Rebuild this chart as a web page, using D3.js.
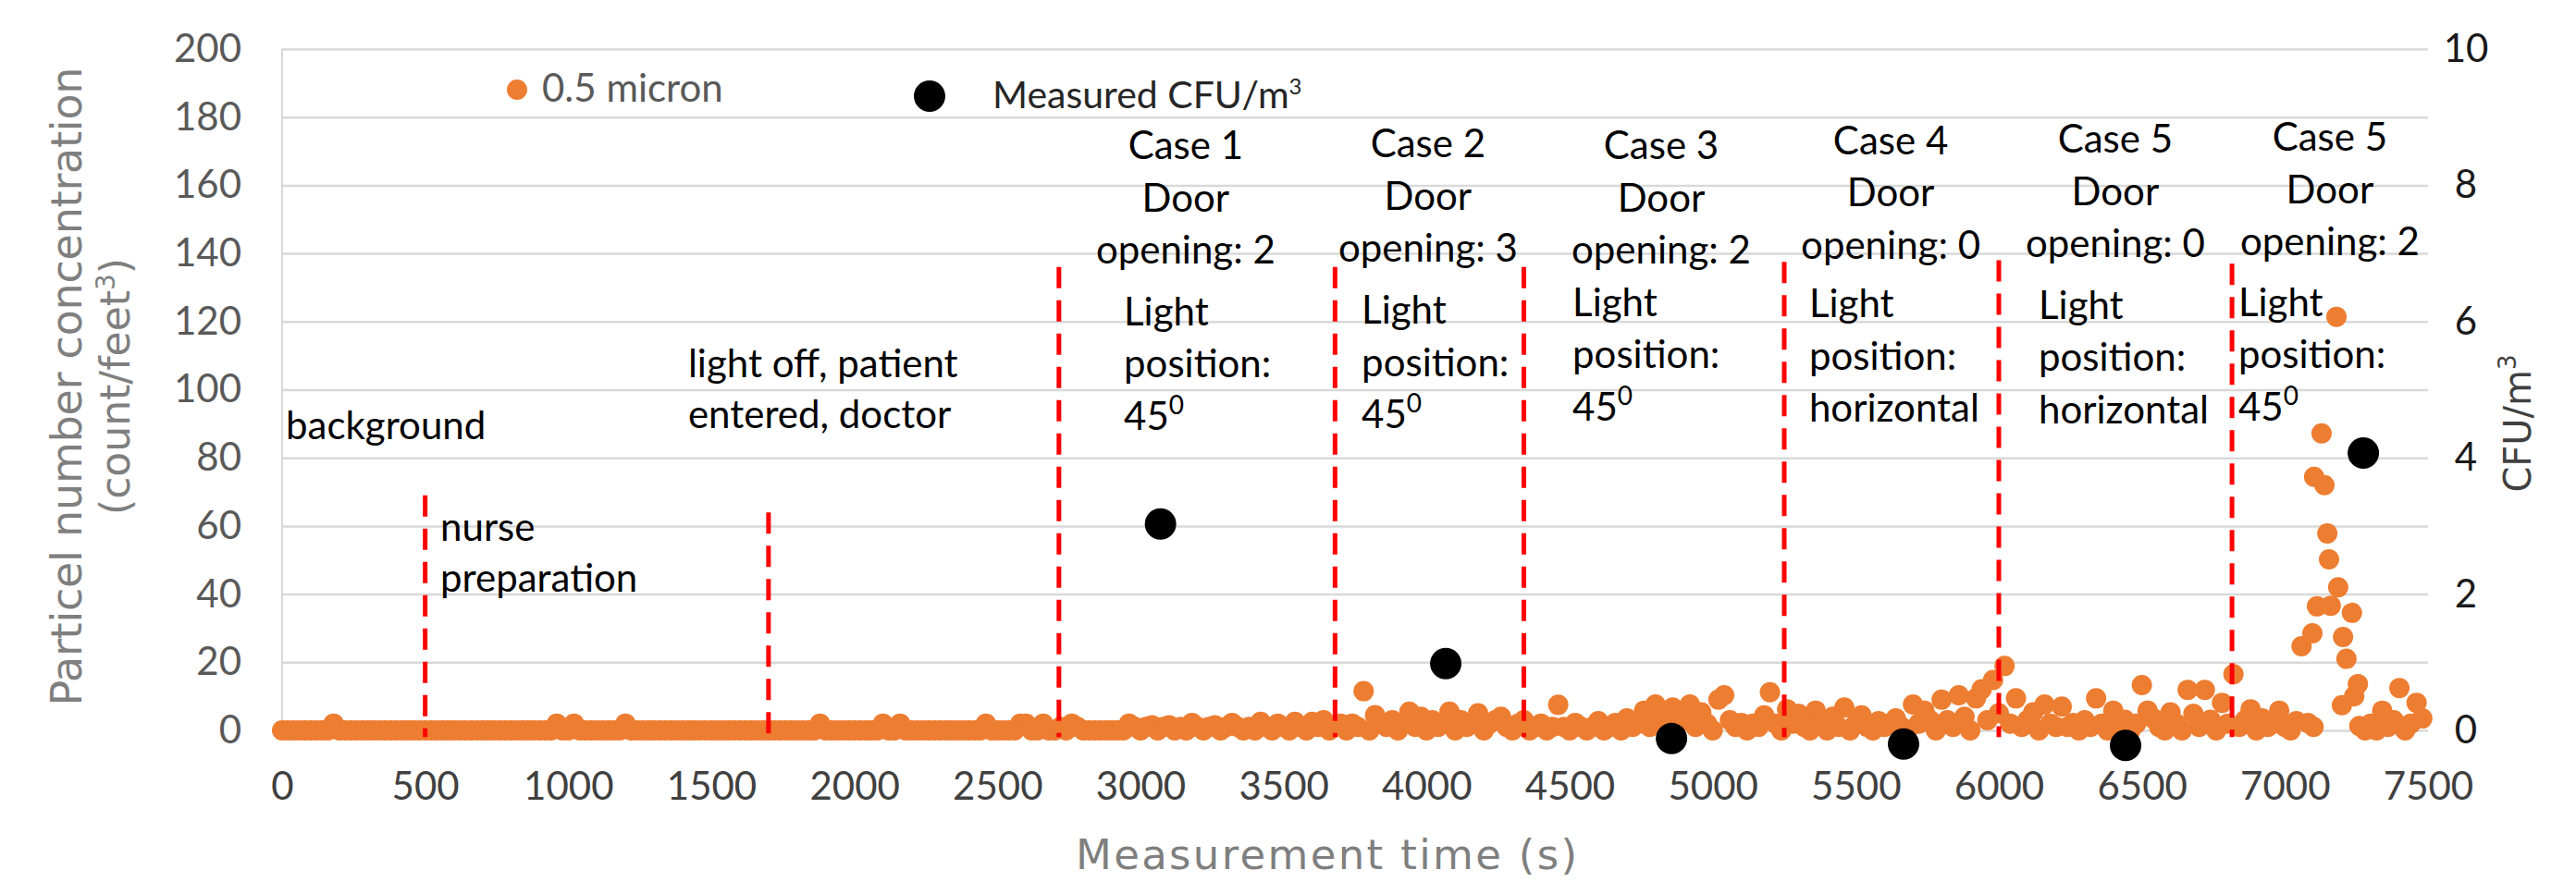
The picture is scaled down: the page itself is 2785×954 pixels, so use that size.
<!DOCTYPE html>
<html lang="en">
<head>
  <meta charset="UTF-8">
  <title>Particle number concentration and measured CFU</title>
  <script src="https://d3js.org/d3.v7.min.js"></script>
  <style>
    body { margin: 0; background: #ffffff; }
    .tick text { font-family: Lato, "Open Sans", sans-serif; font-size: 42px; }
    .note { font-family: Lato, "Open Sans", sans-serif; font-size: 42px; fill: #000000; }
    .axis-title { font-family: "DejaVu Sans", Verdana, sans-serif; }
  </style>
</head>
<body>
  <div id="chart"></div>

  <script>
    // ---- data ----
    const xTicks = [0, 500, 1000, 1500, 2000, 2500, 3000, 3500, 4000, 4500, 5000, 5500, 6000, 6500, 7000, 7500];
    const leftTicks = [0, 20, 40, 60, 80, 100, 120, 140, 160, 180, 200];
    const rightTicks = [0, 2, 4, 6, 8, 10];

    // 0.5 micron counts, one reading every 20 s (null = no dot)
    const sampleStep = 20;
    const particleCounts = [
      0, 0, 0, 0, 0, 0, 0, 0, 0, 2, 0, 0, 0, 0, 0, 0, 0, 0, 0, 0, 0, 0, 0, 0, 0,
      0, 0, 0, 0, 0, 0, 0, 0, 0, 0, 0, 0, 0, 0, 0, 0, 0, 0, 0, 0, 0, 0, 0, 2, 0,
      0, 2, 0, 0, 0, 0, 0, 0, 0, 0, 2, 0, 0, 0, 0, 0, 0, 0, 0, 0, 0, 0, 0, 0, 0,
      0, 0, 0, 0, 0, 0, 0, 0, 0, 0, 0, 0, 0, 0, 0, 0, 0, 0, 0, 2, 0, 0, 0, 0, 0,
      0, 0, 0, 0, 0, 2, 0, 0, 2, 0, 0, 0, 0, 0, 0, 0, 0, 0, 0, 0, 0, 0, 0, 2, 0,
      0, 0, 0, 0, 2, 2, 0, 0, 2, 0, 0, 1, 0, 2, 1, 0, 0, 0, 0, 0, 0, 0, 0, 2, 1,
      0, 1, 1.5, 0, 1, 1.5, 0, 1, 0, 2.2, 1, 0, 1, 1.5, 0, 1, 2.2, 1, 0, 1, 0, 2.5, 1, 0, 2,
      1, 0, 2.5, 1, 0, 2.5, 1, 3, 0, 1, 2, 0, 2, 1, 11.5, 0, 4.5, 2, 1, 3, 0, 2, 5.5, 1, 4,
      0, 3, 1, 2, 5.5, 0, 3, 1, 2, 5, 0, 2, 3, 4, 1, 0, 2, 3, 0, 1, 2, 0, 1, 7.5, 1,
      0, 2.2, 1, 0, 1, 2.7, 0, 1, 2.2, 0, 3.5, 1, 2, 5.8, 1, 7.6, 3, 0, 6.7, 2, 4, 7.6, 1, 5.3, 2,
      0, 9, 10.3, 3, 1, 2.2, 0, 2, 1, 4.4, 11.2, 2, 0, 6.2, 2, 4.9, 1, 0, 5.8, 2, 0, 4, 1, 6.7, 0,
      2, 4.4, 1, 0, 2.7, 1, 2, 3.5, 1, 0, 7.6, 2, 5.8, 3, 0, 9, 3, 1, 10.3, 4, 0, 9.4, 12.1, 3, 14.8,
      5, 18.9, 2, 9.4, 1, 3, 5.3, 0, 7.6, 2, 1, 7, 1, 2.2, 0, 3, 1, 9.4, 2, 0, 5.8, 1, 3.1, 0, 2,
      13.3, 5.8, 3.5, 1, 0, 5.3, 2, 0, 11.9, 4.9, 1, 11.9, 3.1, 0, 8.1, 2, 16.5, 1, 3, 6.2, 0, 3.5, 1, 2, 5.8,
      1, 0, 2.7, null, 2.2, 1, null, null, null, null, null, null, null, 1.3, 0, 2, 0, 5.8, 1, 3, 12.4, 0, 2, 8.1, 3.5
    ];

    // burst after the last door openings
    const peakTimes = [7058, 7096, 7102, 7112, 7128, 7138, 7148, 7154, 7160, 7180, 7186, 7199, 7203, 7215, 7234, 7242, 7255];
    const peakCounts = [24.7, 28.5, 74.4, 36.4, 87.2, 72, 57.8, 50.2, 36.6, 121.4, 42, 7.4, 27.4, 21, 34.5, 10, 13.6];

    const cfuTimes = [3070, 4067, 4856, 5667, 6443, 7274];
    const cfuValues = [3.03, 0.98, -0.12, -0.2, -0.22, 4.07];

    const phaseLineTimes = [500, 1700, 2715, 3680, 4340, 5250, 6000, 6815];
    const phaseLineTops = [69, 64, 136, 136, 136, 137.5, 138, 137];

    const phaseNotes = [["background"], ["nurse", "preparation"], ["light off, patient", "entered, doctor"]];
    const caseNames = ["Case 1", "Case 2", "Case 3", "Case 4", "Case 5", "Case 5"];
    const doorOpenings = [2, 3, 2, 0, 0, 2];
    const lightPositions = ["45", "45", "45", "horizontal", "horizontal", "45"];

    // ---- layout ----
    const W = 2785, H = 954;
    const plot = { left: 305, right: 2625, top: 53, bottom: 790 };
    const lineGap = 56.5;
    // anchors in data units [time, count]
    const phaseNoteAt = [[13, 85.5], [553, 55.6], [1419, 103.7]];
    const caseHeadAt = [[3158, 167.7], [4005, 168.2], [4820, 167.7], [5622, 169.1], [6407, 169.6], [7157, 170.1]];
    const caseLightAt = [[2942, 118.9], [3773, 119.4], [4510, 121.6], [5337, 121.3], [6139, 120.8], [6837, 121.6]];

    const orange = "#ED7D31";

    const svg = d3.select("#chart").append("svg")
      .attr("width", W)
      .attr("height", H)
      .style("display", "block");

    svg.append("rect").attr("width", W).attr("height", H).attr("fill", "#ffffff");

    const x = d3.scaleLinear().domain([0, 7500]).range([plot.left, plot.right]);
    const yLeft = d3.scaleLinear().domain([0, 200]).range([plot.bottom, plot.top]);
    const yRight = d3.scaleLinear().domain([0, 10]).range([plot.bottom, plot.top]);

    // gridlines
    const grid = svg.append("g")
      .attr("transform", `translate(${plot.left},0)`)
      .call(d3.axisLeft(yLeft).tickValues(leftTicks).tickSize(-(plot.right - plot.left)).tickFormat(""));
    grid.select(".domain").remove();
    grid.selectAll("line").attr("stroke", "#d9d9d9").attr("stroke-width", 2.5);

    svg.append("line")
      .attr("x1", x(0)).attr("x2", x(0))
      .attr("y1", yLeft(200)).attr("y2", yLeft(0))
      .attr("stroke", "#d9d9d9").attr("stroke-width", 2);

    // axes labels
    const leftAxis = svg.append("g")
      .attr("transform", `translate(${plot.left},0)`)
      .call(d3.axisLeft(yLeft).tickValues(leftTicks).tickSize(0).tickPadding(44));
    leftAxis.select(".domain").remove();
    leftAxis.selectAll("text").attr("fill", "#595959");

    const bottomAxis = svg.append("g")
      .attr("transform", `translate(0,${plot.bottom})`)
      .call(d3.axisBottom(x).tickValues(xTicks).tickSize(0).tickPadding(45).tickFormat(d3.format("d")));
    bottomAxis.select(".domain").remove();
    bottomAxis.selectAll("text").attr("fill", "#404040");

    const rightAxis = svg.append("g")
      .attr("transform", `translate(${plot.right},0)`)
      .call(d3.axisRight(yRight).tickValues(rightTicks).tickSize(0).tickPadding(41));
    rightAxis.select(".domain").remove();
    rightAxis.selectAll("text").attr("fill", "#1a1a1a").attr("text-anchor", "middle");

    // particle dots
    const particles = particleCounts
      .map((v, i) => ({ t: i * sampleStep, v }))
      .filter(d => d.v !== null)
      .concat(peakTimes.map((t, i) => ({ t, v: peakCounts[i] })));

    svg.append("g").selectAll("circle")
      .data(particles)
      .enter()
      .append("circle")
      .attr("cx", d => x(d.t))
      .attr("cy", d => yLeft(d.v))
      .attr("r", 11)
      .attr("fill", orange);

    // phase lines
    svg.append("g").selectAll("line")
      .data(phaseLineTimes)
      .enter()
      .append("line")
      .attr("x1", d => x(d)).attr("x2", d => x(d))
      .attr("y1", (d, i) => yLeft(phaseLineTops[i]))
      .attr("y2", yLeft(-2))
      .attr("stroke", "#ff0000")
      .attr("stroke-width", 5)
      .attr("stroke-dasharray", "23,13");

    // CFU dots
    svg.append("g").selectAll("circle")
      .data(cfuTimes)
      .enter()
      .append("circle")
      .attr("cx", d => x(d))
      .attr("cy", (d, i) => yRight(cfuValues[i]))
      .attr("r", 17)
      .attr("fill", "#000000");

    // phase notes
    phaseNotes.forEach((lines, i) => {
      const t = svg.append("text").attr("class", "note");
      lines.forEach((s, j) => {
        t.append("tspan")
          .attr("x", x(phaseNoteAt[i][0]))
          .attr("y", yLeft(phaseNoteAt[i][1]) + j * 55)
          .text(s);
      });
    });

    // case notes
    caseNames.forEach((name, i) => {
      const head = [name, "Door", `opening: ${doorOpenings[i]}`];
      const cx = x(caseHeadAt[i][0]), cy = yLeft(caseHeadAt[i][1]);
      head.forEach((s, j) => {
        svg.append("text").attr("class", "note")
          .attr("x", cx).attr("y", cy + j * lineGap)
          .attr("text-anchor", "middle")
          .text(s);
      });
      const lx = x(caseLightAt[i][0]), ly = yLeft(caseLightAt[i][1]);
      ["Light", "position:"].forEach((s, j) => {
        svg.append("text").attr("class", "note")
          .attr("x", lx).attr("y", ly + j * lineGap)
          .text(s);
      });
      const last = svg.append("text").attr("class", "note")
        .attr("x", lx).attr("y", ly + 2 * lineGap);
      last.append("tspan").text(lightPositions[i]);
      if (lightPositions[i] === "45") {
        last.append("tspan").attr("dy", -17).attr("font-size", 28).text("0");
      }
    });

    // legend
    svg.append("circle").attr("cx", 559).attr("cy", 97).attr("r", 11).attr("fill", orange);
    svg.append("text").attr("class", "note")
      .attr("x", 586).attr("y", 110).style("fill", "#595959")
      .text("0.5 micron");
    svg.append("circle").attr("cx", 1005).attr("cy", 104).attr("r", 17).attr("fill", "#000000");
    const leg2 = svg.append("text").attr("class", "note")
      .attr("x", 1073).attr("y", 117).style("fill", "#262626").style("font-size", "41px");
    leg2.append("tspan").text("Measured CFU/m");
    leg2.append("tspan").attr("dy", -15).attr("font-size", 24).text("3");

    // axis titles
    svg.append("text").attr("class", "axis-title")
      .attr("transform", "translate(88,418) rotate(-90)")
      .attr("text-anchor", "middle")
      .attr("font-size", 46)
      .attr("fill", "#7f7f7f")
      .attr("textLength", 691)
      .attr("lengthAdjust", "spacing")
      .text("Particel number concentration");

    const t2 = svg.append("text").attr("class", "axis-title")
      .attr("transform", "translate(140,418) rotate(-90)")
      .attr("text-anchor", "middle")
      .attr("font-size", 44)
      .attr("fill", "#7f7f7f");
    t2.append("tspan").text("(count/feet");
    t2.append("tspan").attr("dy", -16).attr("font-size", 28).text("3");
    t2.append("tspan").attr("dy", 16).text(")");

    svg.append("text").attr("class", "axis-title")
      .attr("x", 1434).attr("y", 940)
      .attr("text-anchor", "middle")
      .attr("font-size", 45)
      .attr("fill", "#7f7f7f")
      .attr("textLength", 542)
      .attr("lengthAdjust", "spacing")
      .text("Measurement time (s)");

    const rt = svg.append("text").attr("class", "axis-title")
      .attr("transform", "translate(2736,458) rotate(-90)")
      .attr("text-anchor", "middle")
      .attr("font-size", 40)
      .attr("fill", "#404040");
    rt.append("tspan").text("CFU/m");
    rt.append("tspan").attr("dy", -16).attr("font-size", 26).text("3");
  </script>
</body>
</html>
